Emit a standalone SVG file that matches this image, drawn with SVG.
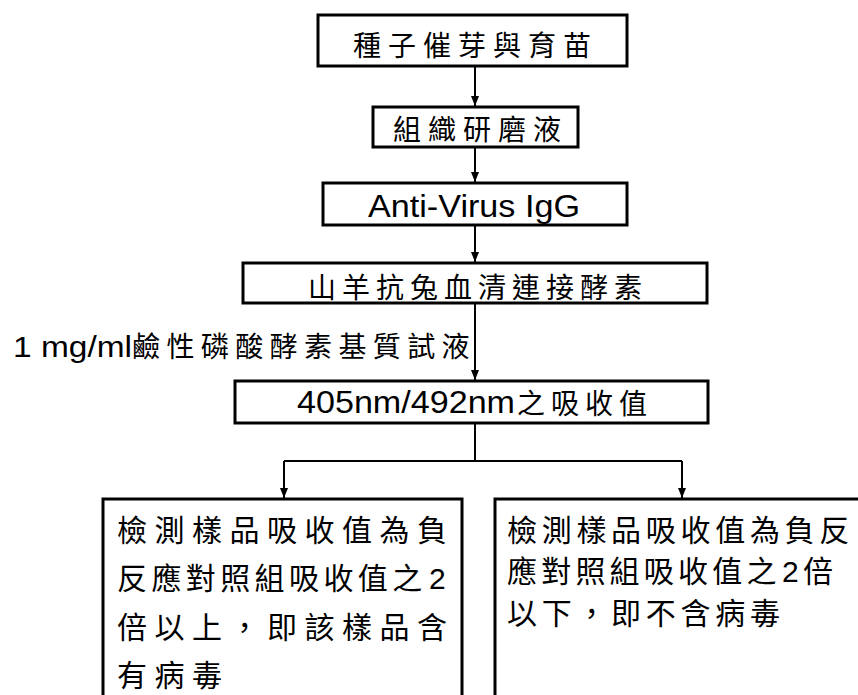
<svg xmlns="http://www.w3.org/2000/svg" width="858" height="695" viewBox="0 0 858 695">
<style>
.box{fill:#fff;stroke:#000;stroke-width:3}
.cn{font-family:"Noto Sans CJK TC","Noto Sans CJK SC",sans-serif;fill:#000}
.t{font-size:28px}
.b{font-size:30px}
.en{font-family:"Liberation Sans",Arial,sans-serif;fill:#000}
.conn{stroke:#000;stroke-width:2;fill:none}
</style>
<defs>
<marker id="ah" markerUnits="userSpaceOnUse" markerWidth="10" markerHeight="10" refX="10" refY="4" orient="auto">
<path d="M0,0 L10,4 L0,8 z" fill="#000"/>
</marker>
</defs>
<rect width="858" height="695" fill="#fff"/>
<g id="connectors">
<line class="conn" x1="475" y1="66" x2="475" y2="106" marker-end="url(#ah)"/>
<line class="conn" x1="475" y1="147" x2="475" y2="182" marker-end="url(#ah)"/>
<line class="conn" x1="475" y1="225" x2="475" y2="262" marker-end="url(#ah)"/>
<line class="conn" x1="475" y1="303" x2="475" y2="380" marker-end="url(#ah)"/>
<polyline class="conn" points="475,423 475,461"/>
<polyline class="conn" points="284,461 682,461"/>
<line class="conn" x1="284" y1="461" x2="284" y2="498" marker-end="url(#ah)"/>
<line class="conn" x1="682" y1="461" x2="682" y2="498" marker-end="url(#ah)"/>
</g>
<g id="n1">
<rect class="box" x="318" y="15" width="309" height="51"/>
<text class="cn t" x="353" y="56" style="letter-spacing:7px">種子催芽與育苗</text>
</g>
<g id="n2">
<rect class="box" x="373" y="107" width="205" height="40"/>
<text class="cn t" x="393" y="140" style="letter-spacing:7px">組織研磨液</text>
</g>
<g id="n3">
<rect class="box" x="323" y="183" width="304" height="42"/>
<text class="en" x="368" y="217" font-size="32" textLength="212" lengthAdjust="spacingAndGlyphs">Anti-Virus IgG</text>
</g>
<g id="n4">
<rect class="box" x="243" y="263" width="464" height="40"/>
<text class="cn t" x="308" y="298" style="letter-spacing:6px">山羊抗兔血清連接酵素</text>
</g>
<g id="label">
<text class="en" x="13" y="357" font-size="30" textLength="119" lengthAdjust="spacingAndGlyphs">1 mg/ml</text>
<text class="cn t" x="132" y="357" style="letter-spacing:6.4px">鹼性磷酸酵素基質試液</text>
</g>
<g id="n5">
<rect class="box" x="235" y="381" width="473" height="42"/>
<text class="en" x="297" y="413" font-size="32" textLength="218" lengthAdjust="spacingAndGlyphs">405nm/492nm</text>
<text class="cn t" x="517" y="414" style="letter-spacing:6px">之吸收值</text>
</g>
<g id="n6">
<rect class="box" x="103" y="499" width="359" height="260"/>
<text class="cn b" x="117" y="541" style="letter-spacing:7.5px">檢測樣品吸收值為負</text>
<text class="cn b" x="117" y="589" style="letter-spacing:4.4px">反應對照組吸收值之<tspan class="en" x="429" style="letter-spacing:0">2</tspan></text>
<text class="cn b" x="117" y="638" style="letter-spacing:7.5px">倍以上，即該樣品含</text>
<text class="cn b" x="117" y="686" style="letter-spacing:7.5px">有病毒</text>
</g>
<g id="n7">
<rect class="box" x="495" y="499" width="400" height="260"/>
<text class="cn b" x="507" y="541" style="letter-spacing:4.7px">檢測樣品吸收值為負反</text>
<text class="cn b" x="507" y="582" style="letter-spacing:4.2px">應對照組吸收值之<tspan class="en" x="782" style="letter-spacing:0">2</tspan><tspan x="803">倍</tspan></text>
<text class="cn b" x="507" y="624" style="letter-spacing:4.7px">以下，即不含病毒</text>
</g>
</svg>
